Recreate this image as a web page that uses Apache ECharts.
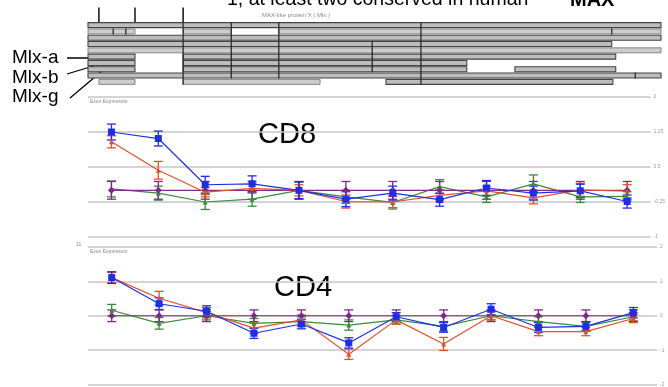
<!DOCTYPE html>
<html><head><meta charset="utf-8">
<script src="https://cdn.jsdelivr.net/npm/echarts@6/dist/echarts.min.js"></script>
<style>html,body{margin:0;padding:0;background:#fff}#c{width:668px;height:387px}</style>
</head><body><div id="c"></div>
<script>
// ---- data ----
var exons = ['e1','e2','e3','e4','e5','e6','e7','e8','e9','e10','e11','e12'];
var cd8Blue   = [1.25, 1.11, 0.12, 0.14, 0.0, -0.19, -0.06, -0.20, 0.05, -0.06, -0.01, -0.24];
var cd8BlueE  = [0.17, 0.16, 0.18, 0.17, 0.18, 0.16, 0.15, 0.14, 0.16, 0.15, 0.14, 0.14];
var cd8Red    = [1.04, 0.43, -0.04, 0.04, 0.0, -0.24, -0.25, -0.11, -0.01, -0.16, 0.01, -0.02];
var cd8RedE   = [0.13, 0.19, 0.10, 0.10, 0.12, 0.14, 0.12, 0.12, 0.10, 0.13, 0.14, 0.14];
var cd8Green  = [0.03, -0.06, -0.25, -0.19, 0.0, -0.14, -0.26, 0.08, -0.14, 0.14, -0.14, -0.13];
var cd8GreenE = [0.17, 0.15, 0.16, 0.15, 0.18, 0.14, 0.14, 0.15, 0.12, 0.19, 0.12, 0.10];
var cd8Purple = [0,0,0,0,0,0,0,0,0,0,0,0];
var cd8PurpleE= [0.19,0.19,0.19,0.19,0.19,0.19,0.19,0.19,0.19,0.19,0.19,0.19];

var cd4Blue   = [1.11, 0.35, 0.13, -0.51, -0.24, -0.79, -0.03, -0.34, 0.19, -0.34, -0.31, 0.09];
var cd4BlueE  = [0.17, 0.17, 0.16, 0.15, 0.14, 0.15, 0.12, 0.14, 0.16, 0.14, 0.14, 0.15];
var cd4Red    = [1.11, 0.51, 0.09, -0.36, -0.12, -1.12, -0.12, -0.82, 0.0, -0.46, -0.46, -0.08];
var cd4RedE   = [0.15, 0.20, 0.15, 0.15, 0.14, 0.15, 0.12, 0.19, 0.12, 0.12, 0.12, 0.12];
var cd4Green  = [0.16, -0.22, 0.0, -0.22, -0.17, -0.27, -0.12, -0.31, 0.0, -0.17, -0.31, -0.03];
var cd4GreenE = [0.17, 0.17, 0.12, 0.14, 0.14, 0.15, 0.12, 0.14, 0.12, 0.14, 0.12, 0.12];
var cd4Purple = [0,0,0,0,0,0,0,0,0,0,0,0];
var cd4PurpleE= [0.17,0.17,0.17,0.17,0.17,0.17,0.17,0.17,0.17,0.17,0.17,0.17];

var cd8Ticks = [-1, -0.25, 0.5, 1.25, 2];
var cd4Ticks = [-2, -1, 0, 1, 2];

// transcript diagram: [row, start, end, shade]
var transcripts = [
  [0, 0, 100, 1],
  [1, 0, 8.2, 0], [1, 16.6, 25, 0], [1, 33.3, 100, 0],
  [2, 0, 100, 1],
  [3, 0, 91.4, 1],
  [4, 0, 100, 0],
  [5, 0, 8.2, 1], [5, 16.6, 92.1, 1],
  [6, 0, 8.2, 1], [6, 16.6, 66.1, 1],
  [7, 0, 8.2, 1], [7, 16.6, 66.1, 1], [7, 74.5, 92.1, 1],
  [8, 0, 100, 1],
  [9, 1.9, 8.2, 0], [9, 16.6, 40.5, 0], [9, 52, 91.6, 1]
];
// exon boundaries: [pos, rowFrom, rowTo]
var boundaries = [
  [16.6, 0, 9], [25.0, 0, 8], [33.3, 0, 8], [49.6, 3, 7], [58.1, 0, 9],
  [4.4, 1, 1], [6.6, 1, 1], [91.4, 1, 1], [95.5, 8, 8]
];
// conserved-site markers above the diagram
var conserved = [1.9, 8.2, 16.6];

var C = {blue:'#1f2fe0', red:'#e0502c', green:'#3b8a3b', purple:'#7b2b88'};

function errData(v, e){ return v.map(function(x,i){ return [i, x, e[i]]; }); }
function errSeries(v, e, col, gi){
  return {type:'custom', xAxisIndex:gi, yAxisIndex:gi, z:3, silent:true,
    data: errData(v,e),
    renderItem:function(p, api){
      var i=api.value(0), y=api.value(1), d=api.value(2);
      var a=api.coord([i,y+d]), b=api.coord([i,y-d]);
      var w=4.5, st={stroke:col, lineWidth:1.3};
      return {type:'group', children:[
        {type:'line', shape:{x1:a[0],y1:a[1],x2:b[0],y2:b[1]}, style:st},
        {type:'line', shape:{x1:a[0]-w,y1:a[1],x2:a[0]+w,y2:a[1]}, style:st},
        {type:'line', shape:{x1:b[0]-w,y1:b[1],x2:b[0]+w,y2:b[1]}, style:st}
      ]};
    }};
}
function lineSeries(v, col, sym, size, gi, z){
  return {type:'line', xAxisIndex:gi, yAxisIndex:gi, data:v, z:z, silent:true,
    symbol:sym, symbolSize:size, showSymbol:true,
    lineStyle:{color:col, width:1.2}, itemStyle:{color:col}};
}

var chart = echarts.init(document.getElementById('c'));
var yAxisCommon = function(gi, min, max, iv){
  return {gridIndex:gi, type:'value', min:min, max:max, interval:iv, position:'right',
    axisLine:{show:false}, axisTick:{show:false},
    axisLabel:{fontSize:5, color:'#9a9a9a', margin:3, fontFamily:'Liberation Sans'},
    splitLine:{lineStyle:{color:'#c6c6c6', width:1.6}}};
};

var series = [
  // diagram
  {type:'custom', xAxisIndex:0, yAxisIndex:0, silent:true, z:2,
    data: transcripts,
    renderItem:function(p, api){
      var r=api.value(0), a=api.coord([api.value(1), r]), b=api.coord([api.value(2), r]);
      var h=5, dark=api.value(3)===1;
      return {type:'rect', shape:{x:a[0], y:a[1]-h/2, width:b[0]-a[0], height:h},
        style:{fill: dark ? '#bdbdbd' : '#cdcdcd', stroke: dark ? '#444' : '#7a7a7a', lineWidth: dark?1.1:0.9}};
    }},
  {type:'custom', xAxisIndex:0, yAxisIndex:0, silent:true, z:3,
    data: boundaries,
    renderItem:function(p, api){
      var x=api.value(0), a=api.coord([x, api.value(1)]), b=api.coord([x, api.value(2)]);
      return {type:'line', shape:{x1:a[0], y1:a[1]-3, x2:b[0], y2:b[1]+3}, style:{stroke:'#2a2a2a', lineWidth:1.3}};
    }},
  {type:'custom', xAxisIndex:0, yAxisIndex:0, silent:true, z:3,
    data: conserved.map(function(x){return [x];}),
    renderItem:function(p, api){
      var a=api.coord([api.value(0), -2.8]), b=api.coord([api.value(0), -0.5]);
      return {type:'line', shape:{x1:a[0], y1:a[1], x2:b[0], y2:b[1]}, style:{stroke:'#111', lineWidth:1.5}};
    }},
  // CD8
  errSeries(cd8Green, cd8GreenE, C.green, 1),
  errSeries(cd8Purple, cd8PurpleE, C.purple, 1),
  errSeries(cd8Red, cd8RedE, C.red, 1),
  errSeries(cd8Blue, cd8BlueE, C.blue, 1),
  lineSeries(cd8Green, C.green, 'triangle', 5, 1, 4),
  lineSeries(cd8Purple, C.purple, 'diamond', 7, 1, 5),
  lineSeries(cd8Red, C.red, 'triangle', 5, 1, 6),
  lineSeries(cd8Blue, C.blue, 'rect', 7, 1, 7),
  // CD4
  errSeries(cd4Green, cd4GreenE, C.green, 2),
  errSeries(cd4Purple, cd4PurpleE, C.purple, 2),
  errSeries(cd4Red, cd4RedE, C.red, 2),
  errSeries(cd4Blue, cd4BlueE, C.blue, 2),
  lineSeries(cd4Green, C.green, 'triangle', 5, 2, 4),
  lineSeries(cd4Purple, C.purple, 'diamond', 7, 2, 5),
  lineSeries(cd4Red, C.red, 'triangle', 5, 2, 6),
  lineSeries(cd4Blue, C.blue, 'rect', 7, 2, 7)
];

chart.setOption({
  animation:false,
  grid:[
    {left:88, top:22, width:573, height:63},
    {left:88, top:97, width:569, height:140},
    {left:88, top:247, width:569, height:140}
  ],
  xAxis:[
    {gridIndex:0, type:'value', min:0, max:100, show:false},
    {gridIndex:1, type:'category', data:exons, show:false},
    {gridIndex:2, type:'category', data:exons, show:false}
  ],
  yAxis:[
    {gridIndex:0, type:'value', min:-0.5, max:9.5, inverse:true, show:false},
    yAxisCommon(1, cd8Ticks[0], cd8Ticks[cd8Ticks.length-1], 0.75),
    yAxisCommon(2, cd4Ticks[0], cd4Ticks[cd4Ticks.length-1], 1)
  ],
  graphic:[
    {type:'text', left:227, top:-10, style:{text:'1, at least two conserved in human', font:'19.5px "Liberation Sans"', fill:'#000'}},
    {type:'text', left:570, top:-10, style:{text:'MAX', font:'bold 20px "Liberation Sans"', fill:'#000'}},
    {type:'text', left:262, top:12, style:{text:'MAX-like protein X ( Mlx )', font:'6px "Liberation Sans"', fill:'#888'}},
    {type:'text', left:12, top:48, style:{text:'Mlx-a', font:'19px "Liberation Sans"', fill:'#000'}},
    {type:'text', left:12, top:68, style:{text:'Mlx-b', font:'19px "Liberation Sans"', fill:'#000'}},
    {type:'text', left:12, top:87, style:{text:'Mlx-g', font:'19px "Liberation Sans"', fill:'#000'}},
    {type:'line', shape:{x1:67,y1:58,x2:100,y2:58}, style:{stroke:'#000', lineWidth:1.3}},
    {type:'line', shape:{x1:67,y1:74,x2:100,y2:64}, style:{stroke:'#000', lineWidth:1.3}},
    {type:'line', shape:{x1:70,y1:98,x2:102,y2:71}, style:{stroke:'#000', lineWidth:1.3}},
    {type:'text', left:90, top:99, style:{text:'Exon Expression', font:'5px "Liberation Sans"', fill:'#888'}},
    {type:'text', left:90, top:249, style:{text:'Exon Expression', font:'5px "Liberation Sans"', fill:'#888'}},
    {type:'text', left:76, top:242, style:{text:'11', font:'5px "Liberation Sans"', fill:'#888'}},
    {type:'text', left:258, top:120, style:{text:'CD8', font:'29px "Liberation Sans"', fill:'#000'}},
    {type:'text', left:274, top:273, style:{text:'CD4', font:'29px "Liberation Sans"', fill:'#000'}}
  ],
  series: series
});
</script></body></html>
